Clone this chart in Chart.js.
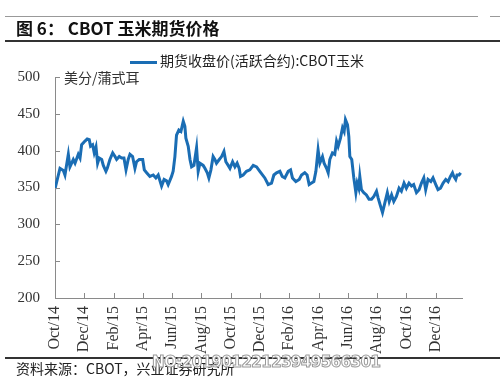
<!DOCTYPE html>
<html>
<head>
<meta charset="utf-8">
<script src="https://cdn.jsdelivr.net/npm/chart.js@4"></script>
<style>
  body { margin: 0; width: 500px; height: 377px; background: #fff; position: relative; overflow: hidden; }
  #wrap { position: absolute; left: 0; top: 0; width: 500px; height: 377px; }
  .rule { position: absolute; left: 5px; right: 0; }
  #title { position: absolute; left: 16px; top: 15px; font: bold 17px "Noto Sans CJK SC", sans-serif; color: #111; white-space: nowrap; }
  #legend { position: absolute; left: 130px; top: 50px; font: 14px "Noto Sans CJK SC", serif; color: #222; white-space: nowrap; }
  #legend span.sw { display: inline-block; width: 27px; height: 3px; background: #1a6db4; vertical-align: middle; margin-right: 3px; }
  #source { position: absolute; left: 16px; top: 358px; font: 14px "Noto Sans CJK SC", sans-serif; color: #222; white-space: nowrap; }
  #mark { position: absolute; left: 152px; top: 353px; font: bold 15px "DejaVu Sans", sans-serif; color: #fff; -webkit-text-stroke: 1px #9a9a9a; white-space: nowrap; letter-spacing: -0.5px; }
</style>
</head>
<body>
<div id="wrap"><canvas id="chart" width="500" height="377"></canvas></div>
<div class="rule" style="top:16px;height:1px;background:#999;right:22px"></div>
<div class="rule" style="top:16px;height:1px;background:#999;left:490px"></div>
<div id="title">图 6： CBOT 玉米期货价格</div>
<div class="rule" style="top:40px;height:2px;background:#333"></div>
<div id="legend"><span class="sw"></span>期货收盘价(活跃合约):CBOT玉米</div>
<div class="rule" style="top:357px;height:2px;background:#333"></div>
<div id="source">资料来源：CBOT，兴业证券研究所</div>
<div id="mark">NO:20190122123949566301</div>
<script>
// months since Oct 2014
const monthOffset = [0, 0.23, 0.34, 0.57, 0.68, 0.91, 1.02, 1.25, 1.37, 1.59, 1.71, 1.82, 2.05, 2.2, 2.34, 2.43, 2.57, 2.68, 2.8, 2.91,
  3.02, 3.19, 3.3, 3.48, 3.57, 3.75, 3.94, 4.1, 4.21, 4.39, 4.55, 4.71, 4.85, 5.0, 5.12, 5.3, 5.46, 5.57, 5.75, 5.99,
  6.1, 6.26, 6.48, 6.71, 6.89, 7.05, 7.28, 7.45, 7.62, 7.73, 7.96, 8.07, 8.19, 8.3, 8.46, 8.6, 8.76, 8.87, 8.94, 9.1,
  9.22, 9.33, 9.49, 9.67, 9.78, 9.9, 10.12, 10.24, 10.4, 10.51, 10.65, 10.8, 10.92, 11.03, 11.22, 11.38, 11.54, 11.67, 11.83, 11.95,
  12.13, 12.29, 12.44, 12.58, 12.67, 12.85, 13.08, 13.31, 13.54, 13.77, 13.99, 14.33, 14.56, 14.79, 14.95, 15.13, 15.36, 15.52, 15.7, 15.93,
  16.09, 16.22, 16.45, 16.68, 16.84, 17.06, 17.22, 17.36, 17.52, 17.68, 17.82, 17.97, 18.09, 18.27, 18.38, 18.55, 18.66, 18.77, 18.95, 19.11,
  19.23, 19.34, 19.5, 19.64, 19.75, 19.84, 19.98, 20.07, 20.14, 20.27, 20.41, 20.55, 20.64, 20.75, 20.82, 20.93, 21.09, 21.27, 21.45, 21.62,
  21.78, 21.96, 22.07, 22.23, 22.37, 22.53, 22.7, 22.83, 22.99, 23.14, 23.32, 23.5, 23.66, 23.84, 24.0, 24.18, 24.35, 24.5, 24.69, 24.87,
  25.03, 25.19, 25.32, 25.48, 25.67, 25.82, 26.01, 26.16, 26.33, 26.51, 26.69, 26.85, 27.01, 27.15, 27.24, 27.37, 27.46, 27.6, 27.71];
const price = [348, 367, 376, 373, 367, 395, 378, 388, 383, 395, 390, 408, 413, 416, 415, 406, 408, 397, 405, 383,
  390, 388, 380, 372, 376, 388, 397, 392, 388, 392, 390, 390, 374, 388, 395, 392, 376, 385, 388, 388,
  374, 370, 365, 367, 363, 367, 352, 361, 359, 354, 365, 372, 392, 421, 428, 426, 440, 433, 417, 406,
  388, 378, 380, 404, 372, 383, 380, 376, 370, 363, 374, 392, 388, 383, 388, 392, 399, 385, 380, 376,
  385, 378, 383, 376, 365, 367, 372, 374, 380, 378, 372, 363, 354, 356, 367, 370, 372, 365, 363, 372,
  374, 363, 358, 361, 367, 370, 367, 354, 356, 358, 372, 401, 383, 392, 383, 376, 370, 388, 397, 395,
  413, 406, 417, 431, 426, 442, 435, 419, 392, 388, 363, 343, 356, 349, 365, 347, 343, 340, 334, 334,
  338, 345, 336, 325, 316, 329, 343, 331, 340, 331, 338, 349, 345, 356, 349, 356, 352, 354, 343, 347,
  356, 363, 347, 361, 358, 363, 354, 347, 349, 356, 361, 358, 365, 370, 365, 361, 367, 367, 370];
const xTickLabels = ["Oct/14", "Dec/14", "Feb/15", "Apr/15", "Jun/15", "Aug/15", "Oct/15",
  "Dec/15", "Feb/16", "Apr/16", "Jun/16", "Aug/16", "Oct/16", "Dec/16"];
const yTicks = [200, 250, 300, 350, 400, 450, 500];
const seriesName = "期货收盘价(活跃合约):CBOT玉米";
const unitLabel = "美分/蒲式耳";

const axisColor = "#8a8a8a";

const innerTicks = {
  id: "innerTicks",
  afterDraw(chart) {
    const ctx = chart.ctx, x = chart.scales.x, y = chart.scales.y, a = chart.chartArea;
    ctx.save();
    ctx.strokeStyle = axisColor;
    ctx.lineWidth = 1;
    ctx.beginPath();
    yTicks.forEach(v => {
      const py = Math.round(y.getPixelForValue(v)) + 0.5;
      ctx.moveTo(a.left, py); ctx.lineTo(a.left + 5, py);
    });
    xTickLabels.forEach((l, i) => {
      const px = Math.round(x.getPixelForValue(i * 2)) + 0.5;
      ctx.moveTo(px, a.bottom); ctx.lineTo(px, a.bottom - 5);
    });
    ctx.stroke();
    ctx.fillStyle = "#333";
    ctx.font = '14px "Noto Sans CJK SC", serif';
    ctx.textBaseline = "middle";
    ctx.fillText(unitLabel, a.left + 9, a.top + 1);
    ctx.restore();
  }
};

new Chart(document.getElementById("chart").getContext("2d"), {
  type: "line",
  data: {
    datasets: [{
      label: seriesName,
      data: monthOffset.map((m, i) => ({ x: m, y: price[i] })),
      borderColor: "#1a6db4",
      borderWidth: 3,
      pointRadius: 0,
      tension: 0,
      fill: false
    }]
  },
  options: {
    responsive: false,
    animation: false,
    layout: { padding: { left: 0, top: 77, right: 38, bottom: 0 } },
    plugins: { legend: { display: false }, tooltip: { enabled: false } },
    scales: {
      x: {
        type: "linear",
        min: 0,
        max: 27.8,
        afterFit: s => { s.height = 79; },
        afterBuildTicks: s => { s.ticks = xTickLabels.map((l, i) => ({ value: i * 2 })); },
        ticks: {
          autoSkip: false,
          minRotation: 90,
          maxRotation: 90,
          padding: 8,
          color: "#333",
          font: { family: "Liberation Serif", size: 16 },
          callback: v => xTickLabels[v / 2]
        },
        grid: { display: false, drawTicks: false },
        border: { display: true, color: axisColor, width: 1 }
      },
      y: {
        min: 200,
        max: 500,
        afterFit: s => { s.width = 55; },
        afterBuildTicks: s => { s.ticks = yTicks.map(v => ({ value: v })); },
        ticks: { padding: 15, color: "#333", font: { family: "Liberation Serif", size: 15 } },
        grid: { display: false, drawTicks: false },
        border: { display: true, color: axisColor, width: 1 }
      }
    }
  },
  plugins: [innerTicks]
});
</script>
</body>
</html>
